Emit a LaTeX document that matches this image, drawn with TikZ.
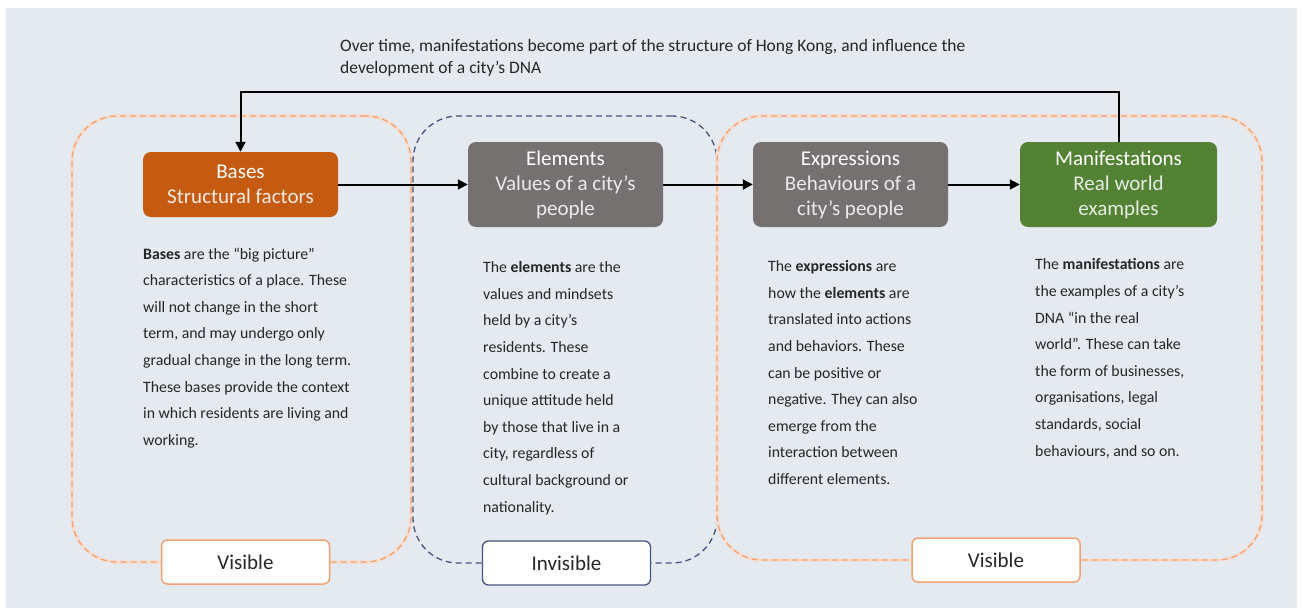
\documentclass[tikz,border=0pt]{standalone}
\usepackage{fontspec}
\setmainfont{Carlito}
\usetikzlibrary{arrows.meta}
\definecolor{bg}{HTML}{E5E9F0}
\definecolor{basesfill}{HTML}{C55A11}
\definecolor{greyfill}{HTML}{767171}
\definecolor{greenfill}{HTML}{548235}
\definecolor{orline}{HTML}{EFA274}
\definecolor{orhalo}{HTML}{F5DED0}
\definecolor{blline}{HTML}{44557F}
\definecolor{txt}{HTML}{262626}
\tikzset{
  region/.style={draw, dashed, dash pattern=on 6pt off 4pt, line width=1.3pt, rounded corners=45pt, inner sep=0pt},
  orregion/.style={region, draw=orline, preaction={draw=orhalo, line width=3.5pt, solid}},
  blregion/.style={region, draw=blline},
  titlebox/.style={rounded corners=8pt, minimum width=195pt, text=white, align=center,
    font=\fontsize{21}{25}\selectfont, inner sep=0pt},
  para/.style={anchor=north west, align=left, inner sep=0pt, text=txt, font=\fontsize{15.8}{26.6}\selectfont},
  tag/.style={draw, fill=white, rounded corners=6pt, minimum width=168pt, minimum height=44pt,
    inner sep=0pt, text=txt, font=\fontsize{21}{22}\selectfont},
  arr/.style={draw=black, line width=2pt, -{Triangle[length=10pt,width=10pt]}},
}
\begin{document}
\begin{tikzpicture}[x=1pt,y=-1pt]
\useasboundingbox (0,0) rectangle (1302,608);
\fill[white] (0,0) rectangle (1302,608);
\fill[bg] (6,8) rectangle (1297,608);
% regions
\node[orregion, minimum width=339pt, minimum height=446pt] (regA) at (241.5,339) {};
\node[blregion, minimum width=304pt, minimum height=447pt] (regB) at (565,339.5) {};
\node[orregion, minimum width=545pt, minimum height=444pt] (regC) at (989.5,338) {};
% top note
\node[para, font=\fontsize{17.5}{22}\selectfont] (note) at (340,39)
  {Over time, manifestations become part of the structure of Hong Kong, and influence the\\development of a city’s DNA};
% boxes
\node[titlebox, fill=basesfill, minimum height=65pt] (bases) at (240.5,184.5)
  {Bases\\\textcolor{white!88!basesfill}{Structural factors}};
\node[titlebox, fill=greyfill, minimum height=85pt] (elem) at (565.5,184.5)
  {Elements\\\textcolor{white!85!greyfill}{Values of a city’s}\\\textcolor{white!85!greyfill}{people}};
\node[titlebox, fill=greyfill, minimum height=85pt] (expr) at (850.5,184.5)
  {Expressions\\\textcolor{white!85!greyfill}{Behaviours of a}\\\textcolor{white!85!greyfill}{city’s people}};
\node[titlebox, fill=greenfill, minimum height=85pt, minimum width=197pt] (manif) at (1118.5,184.5)
  {Manifestations\\\textcolor{white!85!greenfill}{Real world}\\\textcolor{white!85!greenfill}{examples}};
% arrows
\draw[arr] (bases.east) -- (elem.west);
\draw[arr] (elem.east) -- (expr.west);
\draw[arr] (expr.east) -- (manif.west);
\coordinate (fb) at (0,92);
\draw[arr] (manif.north) -- (manif.north |- fb) -| (bases.north);
% paragraphs
\node[para] (pA) at (143,247.5) {\textbf{Bases} are the “big picture”\\characteristics of a place. These\\will not change in the short\\term, and may undergo only\\gradual change in the long term.\\These bases provide the context\\in which residents are living and\\working.};
\node[para] (pB) at (483,261.5) {The \textbf{elements} are the\\values and mindsets\\held by a city’s\\residents. These\\combine to create a\\unique attitude held\\by those that live in a\\city, regardless of\\cultural background or\\nationality.};
\node[para] (pC) at (768,260.5) {The \textbf{expressions} are\\how the \textbf{elements} are\\translated into actions\\and behaviors. These\\can be positive or\\negative. They can also\\emerge from the\\interaction between\\different elements.};
\node[para] (pD) at (1035,258.5) {The \textbf{manifestations} are\\the examples of a city’s\\DNA “in the real\\world”. These can take\\the form of businesses,\\organisations, legal\\standards, social\\behaviours, and so on.};
% tags
\node[tag, draw=orline, line width=1.5pt] (visA) at (245.5,562) {Visible};
\node[tag, draw=blline, line width=1.3pt] (invB) at (566.5,563) {Invisible};
\node[tag, draw=orline, line width=1.5pt] (visC) at (996,560) {Visible};
\end{tikzpicture}
\end{document}
